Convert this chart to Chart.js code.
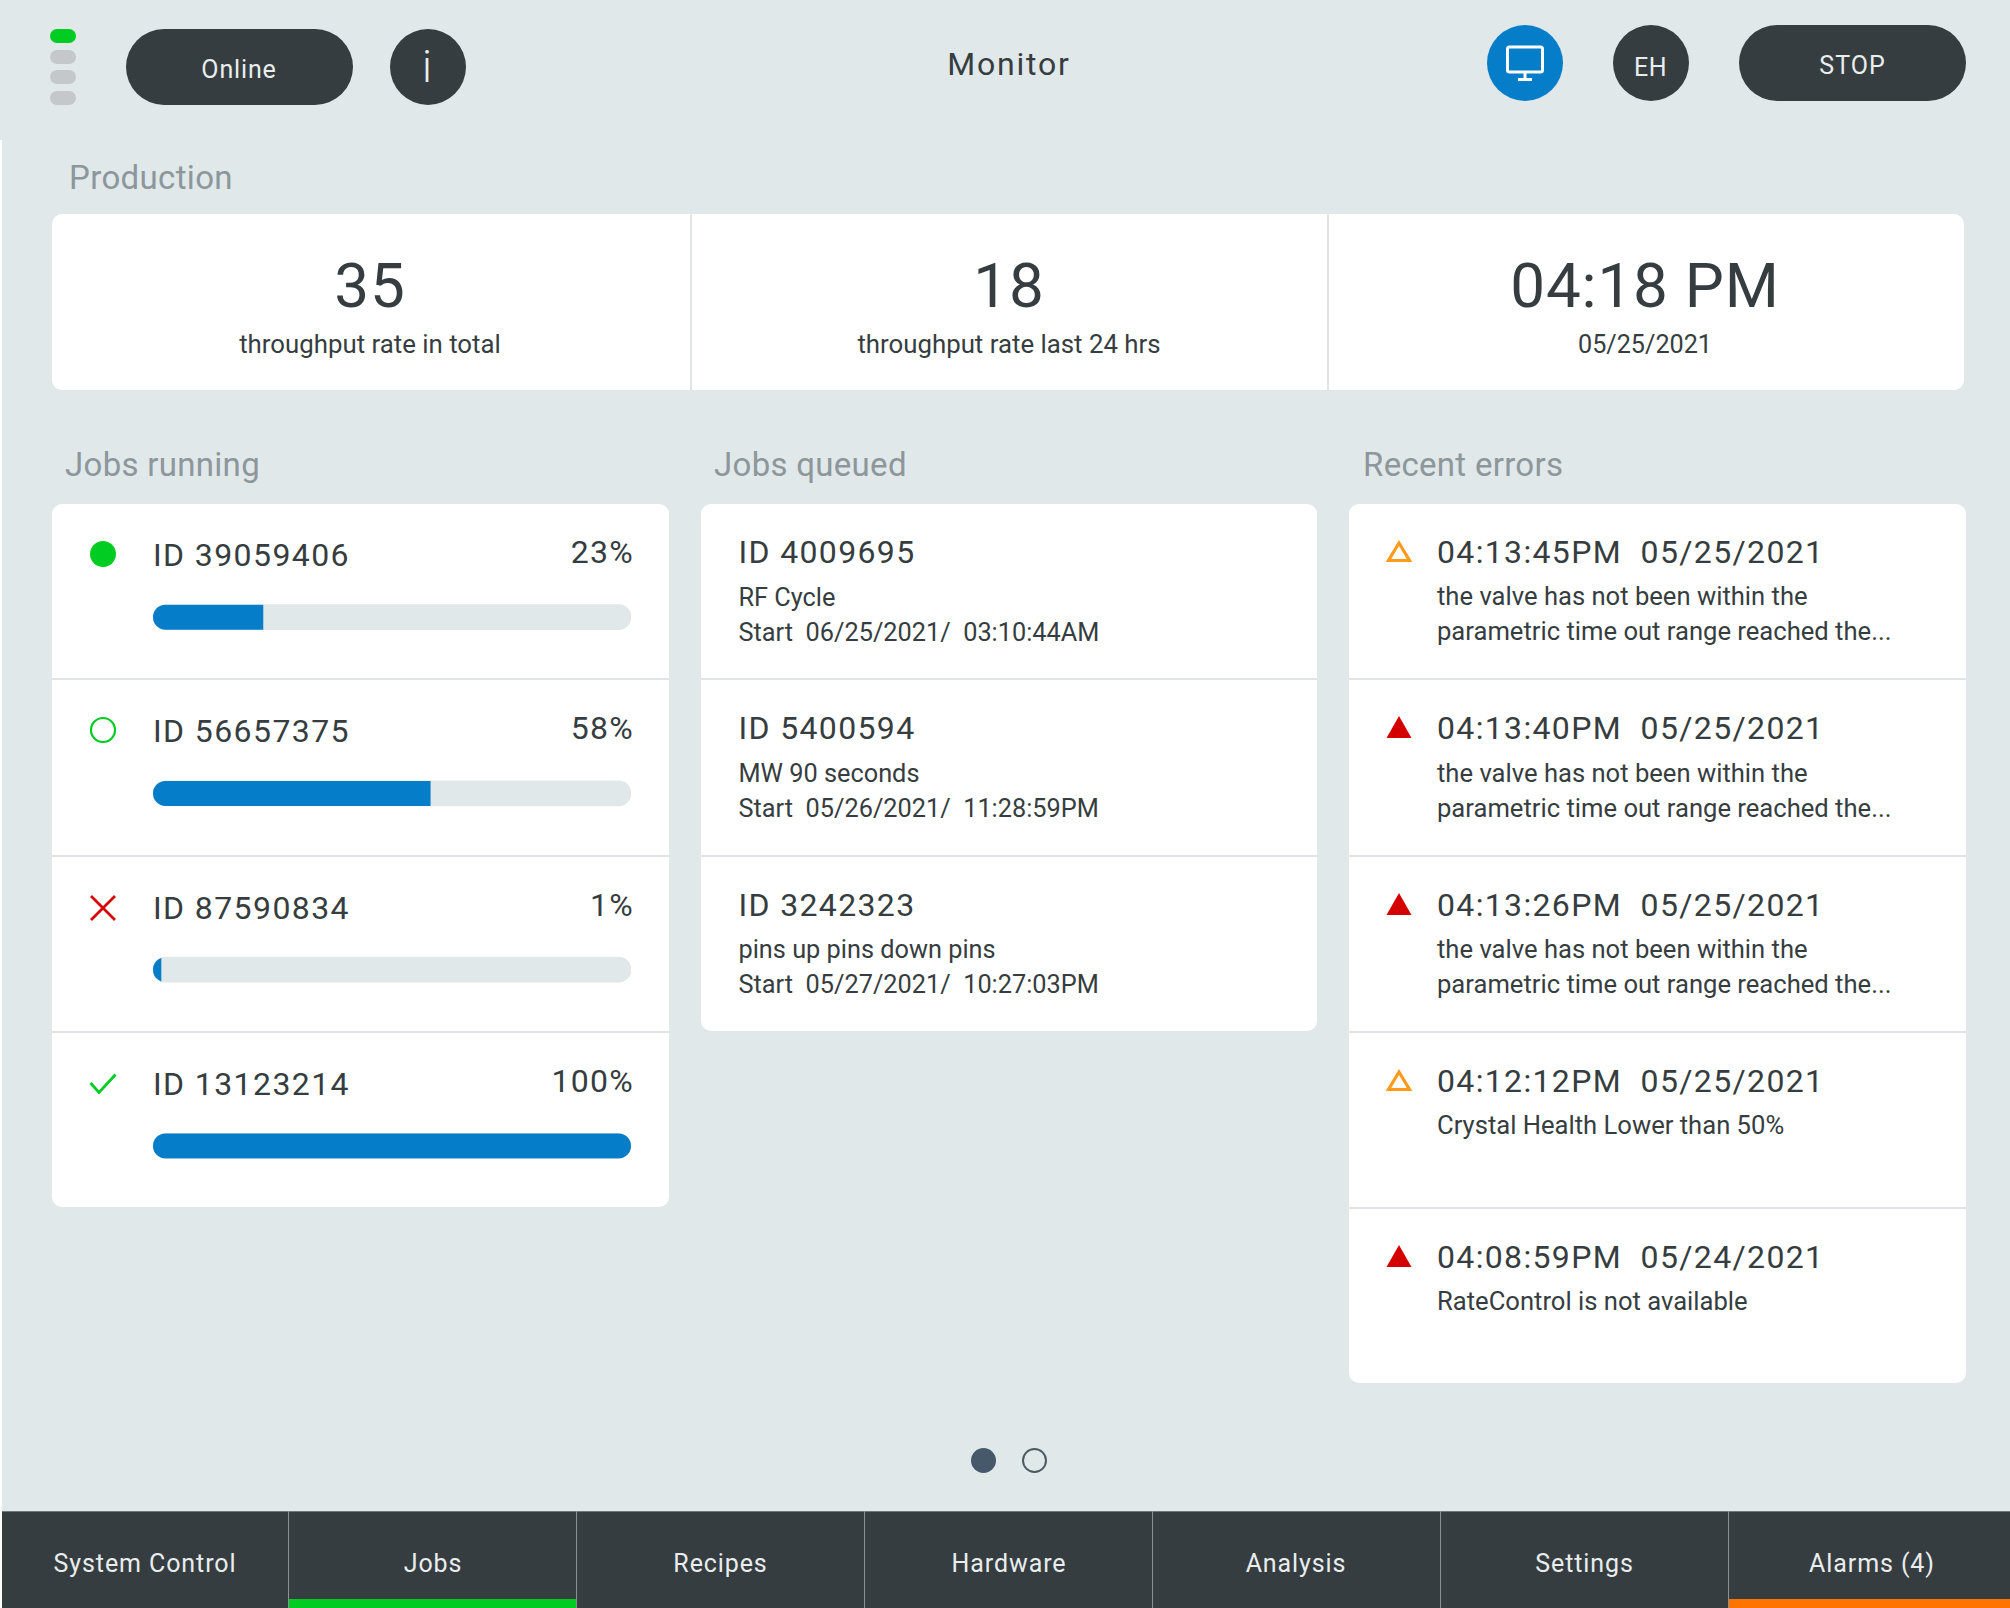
<!DOCTYPE html>
<html>
<head>
<meta charset="utf-8">
<title>Monitor</title>
<script src="https://cdn.jsdelivr.net/npm/chart.js@4"></script>
<style>
  html, body { margin: 0; padding: 0; background: #fff; }
  #page { position: relative; width: 2010px; height: 1608px; overflow: hidden; font-family: Roboto, sans-serif; }
  .box { position: absolute; }
  .txt { position: absolute; white-space: pre; line-height: 1; }
  svg { position: absolute; overflow: visible; }
  #jobsChart { position: absolute; left: 153px; top: 529px; }
</style>
</head>
<body>
<div id="page"></div>
<script>
  // data
  const jobIds = ["ID 39059406", "ID 56657375", "ID 87590834", "ID 13123214"];
  const jobProgress = [23, 58, 1, 100];
  const jobTrack = [100, 100, 100, 100];
  const jobStates = ["running", "idle", "failed", "done"];

  const queuedIds = ["ID 4009695", "ID 5400594", "ID 3242323"];
  const queuedNames = ["RF Cycle", "MW 90 seconds", "pins up pins down pins"];
  const queuedStarts = [
    "Start  06/25/2021/  03:10:44AM",
    "Start  05/26/2021/  11:28:59PM",
    "Start  05/27/2021/  10:27:03PM",
  ];

  const errorTimes = [
    "04:13:45PM  05/25/2021",
    "04:13:40PM  05/25/2021",
    "04:13:26PM  05/25/2021",
    "04:12:12PM  05/25/2021",
    "04:08:59PM  05/24/2021",
  ];
  const errorLevels = ["warn", "alarm", "alarm", "warn", "alarm"];
  const valveLines = ["the valve has not been within the", "parametric time out range reached the..."];
  const errorTexts = [valveLines, valveLines, valveLines, ["Crystal Health Lower than 50%"], ["RateControl is not available"]];

  const statValues = ["35", "18", "04:18 PM"];
  const statLabels = ["throughput rate in total", "throughput rate last 24 hrs", "05/25/2021"];
  const navLabels = ["System Control", "Jobs", "Recipes", "Hardware", "Analysis", "Settings", "Alarms (4)"];

  const DARK = "#363d40";
  const GREY = "#8d979b";
  const LIGHT = "#e9edee";
  const BG = "#e0e8ea";
  const LINE = "#e0e4e6";
  const BLUE = "#057dc8";
  const GREEN = "#00cc22";
  const RED = "#d60a0a";

  const page = document.getElementById("page");

  const box = (x, y, w, h, color, radius) => {
    const d = document.createElement("div");
    d.className = "box";
    d.style.cssText = `left:${x}px;top:${y}px;width:${w}px;height:${h}px;background:${color};border-radius:${radius || 0}`;
    page.appendChild(d);
    return d;
  };

  // baseline positioned text, align is left / center / right
  const text = (str, x, base, size, color, align, spacing, weight) => {
    const d = document.createElement("div");
    d.className = "txt";
    d.textContent = str;
    const shift = align === "center" ? "-50%" : align === "right" ? "-100%" : "0";
    d.style.cssText =
      `left:${x}px;top:${base - 0.8415 * size}px;font-size:${size}px;color:${color};` +
      `letter-spacing:${spacing || 0}px;font-weight:${weight || 400};transform:translateX(${shift})`;
    page.appendChild(d);
  };

  const icon = (x, y, markup) => {
    page.insertAdjacentHTML("beforeend", `<svg style="left:${x}px;top:${y}px" width="1" height="1">${markup}</svg>`);
  };

  // backgrounds
  box(0, 0, 2010, 140, BG);
  box(2, 140, 2008, 1372, BG);

  // header
  box(50, 29, 26, 14, GREEN, "7px");
  box(50, 50, 26, 14, "#c4c8cb", "7px");
  box(50, 70, 26, 14, "#c4c8cb", "7px");
  box(50, 91, 26, 14, "#c4c8cb", "7px");
  box(126, 29, 227, 76, DARK, "38px");
  text("Online", 239, 78, 25, LIGHT, "center", 0.85);
  box(390, 29, 76, 76, DARK, "38px");
  text("i", 427, 82, 44, LIGHT, "center", 0, 300);
  text("Monitor", 1009, 75, 32, DARK, "center", 1.8);
  box(1487, 25, 76, 76, BLUE, "38px");
  icon(1525, 59,
    `<rect x="-17.5" y="-12" width="35" height="25" rx="2" fill="none" stroke="#fff" stroke-width="3"/>` +
    `<path d="M0 13V20M-7 20.5H7" stroke="#fff" stroke-width="3" fill="none"/>`);
  box(1613, 25, 76, 76, DARK, "38px");
  text("EH", 1650.5, 76, 25, LIGHT, "center", 0.5);
  box(1739, 25, 227, 76, DARK, "38px");
  text("STOP", 1852.5, 74, 25, LIGHT, "center", 1);

  // production
  text("Production", 69, 188.5, 33, GREY, "left", 0.35);
  box(52, 214, 1912, 176, "#fff", "10px");
  box(690, 214, 1.5, 176, LINE);
  box(1327, 214, 1.5, 176, LINE);
  [370, 1009, 1645].forEach((cx, i) => {
    text(statValues[i], cx, 307, 62, DARK, "center", i === 2 ? 0.8 : 1);
    text(statLabels[i], cx, 353.5, i === 2 ? 25.2 : 25.8, DARK, "center");
  });

  // section titles
  text("Jobs running", 65, 475.5, 33, GREY, "left", 0.3);
  text("Jobs queued", 714, 475.5, 33, GREY, "left", 0.3);
  text("Recent errors", 1363, 475.5, 33, GREY, "left", 0.3);

  // cards
  const ROW = 176.25;
  const TOP = 504;
  box(52, TOP, 617, ROW * 4 - 2, "#fff", "10px");
  box(701, TOP, 616, ROW * 3 - 2, "#fff", "10px");
  box(1349, TOP, 617, ROW * 5 - 2, "#fff", "10px");
  [1, 2, 3].forEach((n) => box(52, TOP + ROW * n - 2, 617, 2, LINE));
  [1, 2].forEach((n) => box(701, TOP + ROW * n - 2, 616, 2, LINE));
  [1, 2, 3, 4].forEach((n) => box(1349, TOP + ROW * n - 2, 617, 2, LINE));

  // jobs running
  jobIds.forEach((id, i) => {
    const y = TOP + ROW * i;
    text(id, 153, y + 62, 32, DARK, "left", 1.4);
    text(jobProgress[i] + "%", 634, y + 59, 32, DARK, "right", 1.3);
    const cy = y + 50;
    if (jobStates[i] === "running") {
      icon(102.5, cy, `<circle r="13" fill="${GREEN}"/>`);
    } else if (jobStates[i] === "idle") {
      icon(102.5, cy, `<circle r="12" fill="none" stroke="${GREEN}" stroke-width="2.2"/>`);
    } else if (jobStates[i] === "failed") {
      icon(102.5, cy + 1, `<path d="M-12 -12L12 12M12 -12L-12 12" fill="none" stroke="${RED}" stroke-width="2.8"/>`);
    } else {
      icon(102.5, cy + 1, `<path d="M-12.5 -1L-4 8.5L12.5 -9.5" fill="none" stroke="${GREEN}" stroke-width="2.8"/>`);
    }
  });

  // jobs queued
  queuedIds.forEach((id, i) => {
    const y = TOP + ROW * i;
    text(id, 738.5, y + 59, 32, DARK, "left", 1.35);
    text(queuedNames[i], 738.5, y + 102, 25.3, DARK);
    text(queuedStarts[i], 738.5, y + 137, 25.3, DARK);
  });

  // recent errors
  errorTimes.forEach((t, i) => {
    const y = TOP + ROW * i;
    text(t, 1437, y + 59, 32, DARK, "left", 1.35);
    errorTexts[i].forEach((line, j) => text(line, 1437, y + 102 + j * 35, 25.6, DARK));
    const markup = errorLevels[i] === "alarm"
      ? `<path d="M0 0L12.5 22H-12.5Z" fill="#d40000"/>`
      : `<path d="M0 3L10.5 20.5H-10.5Z" fill="none" stroke="#ff9a1a" stroke-width="3.2"/>`;
    icon(1399, y + 36, markup);
  });

  // pager
  box(971, 1448, 25, 25, "#46596a", "50%");
  const ring = box(1022, 1448, 25, 25, "transparent", "50%");
  ring.style.boxSizing = "border-box";
  ring.style.border = "2px solid #4c5a62";

  // navigation
  box(2, 1511, 2008, 97, DARK);
  box(2, 1511, 2008, 1, "#6f787c");
  box(289, 1599, 288, 9, GREEN);
  box(1729, 1599, 281, 9, "#ff7300");
  [289, 577, 865, 1153, 1441, 1729].forEach((x) => box(x - 1, 1511, 1, 97, "#8a9296"));
  [145, 433, 720.5, 1009, 1296, 1584.5, 1872].forEach((cx, i) => {
    text(navLabels[i], cx, 1572, 25, LIGHT, "center", 0.9);
  });

  // progress bars
  const canvas = document.createElement("canvas");
  canvas.id = "jobsChart";
  canvas.width = 478;
  canvas.height = ROW * 4;
  page.appendChild(canvas);

  const clipToTrack = {
    id: "clipToTrack",
    beforeDatasetDraw: (chart, args) => {
      if (args.index !== 0) return;
      const { ctx } = chart;
      ctx.save();
      ctx.beginPath();
      chart.getDatasetMeta(1).data.forEach((bar) => {
        ctx.roundRect(bar.base, bar.y - bar.height / 2, bar.x - bar.base, bar.height, bar.height / 2);
      });
      ctx.clip();
    },
    afterDatasetDraw: (chart, args) => {
      if (args.index === 0) chart.ctx.restore();
    },
  };

  new Chart(canvas.getContext("2d"), {
    type: "bar",
    data: {
      labels: jobIds,
      datasets: [
        { label: "Progress", data: jobProgress, backgroundColor: BLUE, barThickness: 25, grouped: false, order: 0, minBarLength: 8 },
        { label: "Track", data: jobTrack, backgroundColor: BG, barThickness: 25, grouped: false, order: 1, borderRadius: 12.5, borderSkipped: false },
      ],
    },
    options: {
      indexAxis: "y",
      responsive: false,
      animation: false,
      devicePixelRatio: 1,
      layout: { padding: 0 },
      scales: {
        x: { display: false, min: 0, max: 100 },
        y: { display: false },
      },
      plugins: { legend: { display: false }, tooltip: { enabled: false } },
    },
    plugins: [clipToTrack],
  });
</script>
</body>
</html>
